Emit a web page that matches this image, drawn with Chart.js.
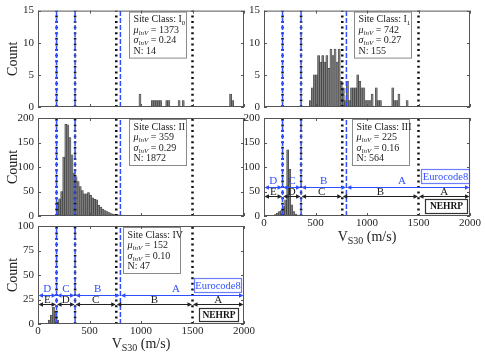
<!DOCTYPE html>
<html><head><meta charset="utf-8">
<script src="https://cdn.jsdelivr.net/npm/chart.js@4.4.1/dist/chart.umd.min.js"></script>
<style>
html,body{margin:0;padding:0;background:#fff;}
#wrap{position:relative;width:485px;height:356px;overflow:hidden;background:#fff;}
canvas{position:absolute;left:0;top:0;}
</style></head><body><div id="wrap">
<canvas id="c0" width="485" height="356" style="width:485px;height:356px"></canvas>
<canvas id="c1" width="485" height="356" style="width:485px;height:356px"></canvas>
<canvas id="c2" width="485" height="356" style="width:485px;height:356px"></canvas>
<canvas id="c3" width="485" height="356" style="width:485px;height:356px"></canvas>
<canvas id="c4" width="485" height="356" style="width:485px;height:356px"></canvas>
</div>
<script>
// ---------------- DATA ----------------
const binWidth = 20; // m/s, histogram bin width (left edges listed below)
const i0Bins   = [980,1100,1120,1140,1160,1180,1240,1260,1360,1400,1860,1880];
const i0Counts = [2,1,1,1,1,1,1,1,1,1,2,1];
const i1Bins   = [440,460,480,500,520,540,560,580,600,620,640,660,680,700,720,740,760,780,800,820,840,860,880,900,920,940,960,980,1000,1020,1040,1080,1100,1120,1240,1260,1280,1300,1380];
const i1Counts = [1,3,5,5,8,7,8,7,8,6,9,8,9,7,9,4,3,1,4,1,3,3,3,5,4,3,3,1,1,1,2,3,1,1,3,1,1,2,1];
const iiBins   = [180,200,220,240,260,280,300,320,340,360,380,400,420,440,460,480,500,520,540,560,580,600,620,640,660,680,700,720,740,760,780,800,820,840,1000,1040];
const iiCounts = [28,35,50,120,187,186,160,125,88,80,70,60,52,45,45,48,42,37,34,33,22,18,14,11,9,7,5,4,3,3,2,2,1,1,1,1];
const iiiBins   = [100,120,140,160,180,200,220,240,260,280,300,320,500];
const iiiCounts = [3,6,9,11,19,33,135,95,23,9,4,2,1];
const ivBins   = [100,120,140,160,180];
const ivCounts = [4,9,17,13,4];

const siteClass = ['I','I','II','III','IV'];
const siteSub   = ['0','1','','',''];
const muLnV     = ['1373','742','359','225','152'];
const sigmaLnV  = ['0.24','0.27','0.29','0.16','0.10'];
const nCount    = ['14','155','1872','564','47'];

const xTicks = [0,500,1000,1500,2000];
const nehrpBounds = [180,360,760,1500];
const ecBounds = [180,360,800];
const nehrpClasses = ['E','D','C','B','A'];
const ecClasses = ['D','C','B','A'];

// ---------------- LAYOUT / STYLE ----------------
const SERIF = '"Liberation Serif","Times New Roman",serif';
const BLUE = '#2f4fff';
const ecLabelAt = [90, 270, 580, 1340];     // label anchor positions (m/s)
const neLabelAt = [90, 270, 560, 1130, 1750];
const panels = [
  {bins:i0Bins,  counts:i0Counts,  L:38,  R:244, T:10,  B:107, ymax:15,  ystep:5,  yTitle:true,  xLabels:false, boxLeft:880},
  {bins:i1Bins,  counts:i1Counts,  L:264, R:470, T:10,  B:107, ymax:15,  ystep:5,  yTitle:false, xLabels:false, boxLeft:870},
  {bins:iiBins,  counts:iiCounts,  L:38,  R:244, T:118, B:216, ymax:200, ystep:50, yTitle:true,  xLabels:false, boxLeft:880},
  {bins:iiiBins, counts:iiiCounts, L:264, R:470, T:118, B:216, ymax:200, ystep:50, yTitle:false, xLabels:true,  boxLeft:855,
     ecY:60, neY:40, ecBox:[1525,1990,95,67], neBox:[1565,1975,34,7], titleY:241},
  {bins:ivBins,  counts:ivCounts,  L:38,  R:244, T:226, B:324, ymax:100, ystep:25, yTitle:true,  xLabels:true,  boxLeft:830,
     ecY:30, neY:20, ecBox:[1515,1970,47,33], neBox:[1560,1945,16,3], titleY:348}
];

function seg(ctx, text, x, y, font){
  ctx.font = font + ' ' + SERIF;
  ctx.fillText(text, x, y);
  return x + ctx.measureText(text).width;
}
function head(ctx, xp, yp, dir){
  ctx.beginPath(); ctx.moveTo(xp, yp); ctx.lineTo(xp+dir*4.5, yp-2.3); ctx.lineTo(xp+dir*4.5, yp+2.3); ctx.closePath(); ctx.fill();
}
function arrowRow(ctx, xs, yPix, edges, labels, labelAt, color, lift){
  ctx.strokeStyle = color; ctx.fillStyle = color; ctx.lineWidth = 1;
  for (let i = 0; i < labels.length; i++){
    const x0 = xs.getPixelForValue(edges[i]), x1 = xs.getPixelForValue(edges[i+1]);
    ctx.beginPath(); ctx.moveTo(x0+2, yPix+0.5); ctx.lineTo(x1-2, yPix+0.5); ctx.stroke();
    head(ctx, x0+0.5, yPix+0.5, 1); head(ctx, x1-0.5, yPix+0.5, -1);
    ctx.font = '11px ' + SERIF; ctx.textAlign = 'center'; ctx.textBaseline = 'alphabetic';
    ctx.fillText(labels[i], xs.getPixelForValue(labelAt[i]), yPix - lift);
  }
}
function legendBox(ctx, xs, ys, b, text, stroke, color, font){
  const x0 = Math.round(xs.getPixelForValue(b[0]))+0.5, x1 = Math.round(xs.getPixelForValue(b[1]))+0.5;
  const y0 = Math.round(ys.getPixelForValue(b[2]))+0.5, y1 = Math.round(ys.getPixelForValue(b[3]))+0.5;
  ctx.fillStyle = '#fff'; ctx.fillRect(x0, y0, x1-x0, y1-y0);
  ctx.strokeStyle = stroke; ctx.lineWidth = 1.2; ctx.strokeRect(x0, y0, x1-x0, y1-y0);
  ctx.fillStyle = color; ctx.font = font + ' ' + SERIF; ctx.textAlign = 'center'; ctx.textBaseline = 'middle';
  ctx.fillText(text, (x0+x1)/2, (y0+y1)/2 + 0.5);
}

function decoPlugin(p, i){
  return {
    id: 'deco' + i,
    afterDatasetsDraw(chart){
      const ctx = chart.ctx, a = chart.chartArea, xs = chart.scales.x, ys = chart.scales.y;
      ctx.save();
      if (p.ecY !== undefined){
        arrowRow(ctx, xs, Math.round(ys.getPixelForValue(p.ecY)), [0, ...ecBounds, 2000], ecClasses, ecLabelAt, BLUE, 3);
        arrowRow(ctx, xs, Math.round(ys.getPixelForValue(p.neY)), [0, ...nehrpBounds, 2000], nehrpClasses, neLabelAt, '#222', 1.5);
        legendBox(ctx, xs, ys, p.ecBox, 'Eurocode8', '#6d7dff', BLUE, '10.5px');
        legendBox(ctx, xs, ys, p.neBox, 'NEHRP', '#333', '#111', 'bold 9.5px');
      }
      const bx = Math.round(xs.getPixelForValue(p.boxLeft)) + 0.5, by = a.top + 1.5, bw = 57, bh = 46;
      ctx.fillStyle = '#fff'; ctx.fillRect(bx, by, bw, bh);
      ctx.strokeStyle = '#8a8a8a'; ctx.lineWidth = 1; ctx.strokeRect(bx, by, bw, bh);
      ctx.fillStyle = '#222'; ctx.textAlign = 'left'; ctx.textBaseline = 'alphabetic';
      const tx = bx + 4;
      let cx = seg(ctx, 'Site Class: ' + siteClass[i], tx, by + 10, '10px');
      if (siteSub[i]) seg(ctx, siteSub[i], cx, by + 12.5, '7px');
      cx = seg(ctx, 'μ', tx, by + 20.5, 'italic 10px');
      cx = seg(ctx, 'lnV', cx, by + 22.5, 'italic 7px');
      seg(ctx, ' = ' + muLnV[i], cx, by + 20.5, '10px');
      cx = seg(ctx, 'σ', tx, by + 31, 'italic 10px');
      cx = seg(ctx, 'lnV', cx, by + 33, 'italic 7px');
      seg(ctx, ' = ' + sigmaLnV[i], cx, by + 31, '10px');
      seg(ctx, 'N: ' + nCount[i], tx, by + 41.5, '10px');
      ctx.strokeStyle = '#555'; ctx.lineWidth = 1;
      ctx.strokeRect(a.left + 0.5, a.top + 0.5, a.width - 1, a.height - 1);
      ctx.beginPath();
      xTicks.forEach(v => {
        const px = Math.round(xs.getPixelForValue(v)) + 0.5;
        ctx.moveTo(px, a.bottom); ctx.lineTo(px, a.bottom - 3);
        ctx.moveTo(px, a.top); ctx.lineTo(px, a.top + 3);
      });
      for (let v = 0; v <= p.ymax; v += p.ystep){
        const py = Math.round(ys.getPixelForValue(v)) + 0.5;
        ctx.moveTo(a.left, py); ctx.lineTo(a.left + 3, py);
        ctx.moveTo(a.right, py); ctx.lineTo(a.right - 3, py);
      }
      ctx.stroke();
      if (p.xLabels){
        ctx.fillStyle = '#222'; ctx.textAlign = 'left'; ctx.textBaseline = 'alphabetic';
        ctx.font = '14px ' + SERIF; const w1 = ctx.measureText('V').width, w3 = ctx.measureText(' (m/s)').width;
        ctx.font = '10px ' + SERIF; const w2 = ctx.measureText('S30').width;
        let sx = (a.left + a.right)/2 - (w1 + w2 + w3)/2;
        sx = seg(ctx, 'V', sx, p.titleY, '14px');
        sx = seg(ctx, 'S30', sx, p.titleY + 2.5, '10px');
        seg(ctx, ' (m/s)', sx, p.titleY, '14px');
      }
      ctx.restore();
    }
  };
}

panels.forEach((p, i) => {
  const yAxisW = p.yTitle ? p.L - 5 : 30;
  const xAxisH = p.xLabels ? 16 : 0;
  const datasets = [];
  datasets.push({
    type: 'bar',
    data: p.bins.map((b, k) => ({x: b + binWidth/2, y: p.counts[k]})),
    backgroundColor: '#7b7b7b', borderColor: '#2e2e2e', borderWidth: 0.5,
    barPercentage: 1, categoryPercentage: 1, order: 3
  });
  nehrpBounds.forEach(b => datasets.push({
    type: 'line', data: [{x: b, y: 0}, {x: b, y: p.ymax}],
    borderColor: '#111', borderWidth: 2.5, borderDash: [2, 3.6], pointRadius: 0, order: 2
  }));
  ecBounds.forEach(b => datasets.push({
    type: 'line', data: [{x: b, y: 0}, {x: b, y: p.ymax}],
    borderColor: BLUE, borderWidth: 1.5, borderDash: [5, 2], pointRadius: 0, order: 1
  }));
  new Chart(document.getElementById('c' + i), {
    type: 'bar',
    data: {datasets},
    options: {
      responsive: false, animation: false, devicePixelRatio: 1,
      layout: {padding: {left: p.yTitle ? 5 : p.L - 30, top: p.T, right: 485 - p.R, bottom: 356 - p.B - xAxisH}},
      plugins: {legend: {display: false}, tooltip: {enabled: false}},
      scales: {
        x: {
          type: 'linear', min: 0, max: 2000, offset: false, display: p.xLabels,
          grid: {display: false, drawTicks: false, offset: false}, border: {display: false},
          ticks: {stepSize: 500, autoSkip: false, maxRotation: 0, padding: 1, color: '#262626',
                  font: {family: SERIF, size: 11}, callback: v => String(v)},
          afterFit: s => { s.height = xAxisH; }
        },
        y: {
          min: 0, max: p.ymax,
          grid: {display: false, drawTicks: false}, border: {display: false},
          ticks: {stepSize: p.ystep, padding: 4, color: '#262626', font: {family: SERIF, size: 11}, callback: v => String(v)},
          title: {display: p.yTitle, text: 'Count', color: '#222', padding: {top: 0, bottom: 0}, font: {family: SERIF, size: 14}},
          afterFit: s => { s.width = yAxisW; }
        }
      }
    },
    plugins: [decoPlugin(p, i)]
  });
});
</script></body></html>
